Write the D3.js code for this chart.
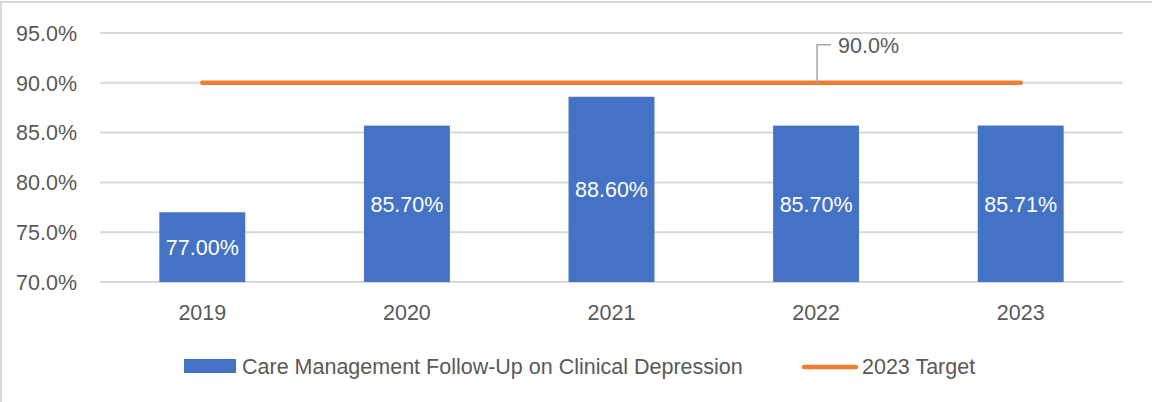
<!DOCTYPE html>
<html>
<head>
<meta charset="utf-8">
<script src="https://cdn.jsdelivr.net/npm/d3@7"></script>
<style>
  html, body { margin: 0; padding: 0; background: #fff; }
  svg { display: block; }
  text { font-family: "Liberation Sans", Arial, sans-serif; }
</style>
</head>
<body>
<script>
// Chart data
const years = ["2019", "2020", "2021", "2022", "2023"];
const followUp = [0.77, 0.857, 0.886, 0.857, 0.8571];
const followUpLabels = ["77.00%", "85.70%", "88.60%", "85.70%", "85.71%"];
const target = [0.90, 0.90, 0.90, 0.90, 0.90];
const yTicks = [0.70, 0.75, 0.80, 0.85, 0.90, 0.95];
const seriesNames = ["Care Management Follow-Up on Clinical Depression", "2023 Target"];
const targetLabelIndex = 3;

const W = 1152, H = 402;
const blue = "#4472C4", orange = "#ED7D31", grid = "#d9d9d9", ink = "#595959";
const fs = 21.5;

const svg = d3.select("body").append("svg")
  .attr("width", W).attr("height", H);

// outer chart frame
svg.append("rect")
  .attr("x", 1).attr("y", 2).attr("width", W + 10).attr("height", H + 10)
  .attr("fill", "#fff").attr("stroke", grid).attr("stroke-width", 2);

const x = d3.scaleBand().domain(years).range([100, 1123])
  .paddingInner(0.58).paddingOuter(0.29);
const y = d3.scaleLinear().domain([0.70, 0.95]).range([282, 33]);

// horizontal gridlines
svg.append("g").selectAll("line").data(yTicks).join("line")
  .attr("x1", 100).attr("x2", 1123)
  .attr("y1", d => y(d)).attr("y2", d => y(d))
  .attr("stroke", grid).attr("stroke-width", 2);

// y-axis tick labels
svg.append("g").selectAll("text").data(yTicks).join("text")
  .attr("x", 77).attr("y", d => y(d)).attr("dy", "0.36em")
  .attr("text-anchor", "end").attr("fill", ink)
  .attr("font-size", fs)
  .text(d => d3.format(".1%")(d));

// bars
const bars = svg.append("g");
bars.selectAll("rect").data(years).join("rect")
  .attr("x", d => x(d))
  .attr("width", x.bandwidth())
  .attr("y", (d, i) => y(followUp[i]))
  .attr("height", (d, i) => y(0.70) - y(followUp[i]))
  .attr("fill", blue);

// bar value labels, centred in each bar
bars.selectAll("text").data(years).join("text")
  .attr("x", d => x(d) + x.bandwidth() / 2)
  .attr("y", (d, i) => (y(followUp[i]) + y(0.70)) / 2)
  .attr("dy", "0.36em")
  .attr("text-anchor", "middle").attr("fill", "#fff")
  .attr("font-size", fs)
  .text((d, i) => followUpLabels[i]);

// x-axis category labels
svg.append("g").selectAll("text").data(years).join("text")
  .attr("x", d => x(d) + x.bandwidth() / 2)
  .attr("y", 312).attr("dy", "0.36em")
  .attr("text-anchor", "middle").attr("fill", ink)
  .attr("font-size", fs)
  .text(d => d);

// target line
const cx = d => x(d) + x.bandwidth() / 2;
const line = d3.line().x((d, i) => cx(years[i])).y(d => y(d));
svg.append("path").datum(target)
  .attr("d", line)
  .attr("fill", "none").attr("stroke", orange)
  .attr("stroke-width", 4.5).attr("stroke-linecap", "round");

// target value callout with leader line
const px = cx(years[targetLabelIndex]) + 1;
const py = y(target[targetLabelIndex]);
svg.append("path")
  .attr("d", `M${px},${py} L${px},${py - 38} L${px + 14},${py - 38}`)
  .attr("fill", "none").attr("stroke", "#a6a6a6").attr("stroke-width", 1.5);
svg.append("text")
  .attr("x", px + 21).attr("y", py - 38).attr("dy", "0.36em")
  .attr("fill", ink).attr("font-size", fs)
  .text(d3.format(".1%")(target[targetLabelIndex]));

// legend
const lg = svg.append("g");
lg.append("rect").attr("x", 184).attr("y", 359).attr("width", 52).attr("height", 14)
  .attr("fill", blue);
lg.append("text").attr("x", 242).attr("y", 366).attr("dy", "0.36em")
  .attr("fill", ink).attr("font-size", fs).text(seriesNames[0]);
lg.append("line").attr("x1", 804).attr("x2", 856).attr("y1", 367).attr("y2", 367)
  .attr("stroke", orange).attr("stroke-width", 4.5).attr("stroke-linecap", "round");
lg.append("text").attr("x", 862).attr("y", 366).attr("dy", "0.36em")
  .attr("fill", ink).attr("font-size", fs).text(seriesNames[1]);
</script>
</body>
</html>
